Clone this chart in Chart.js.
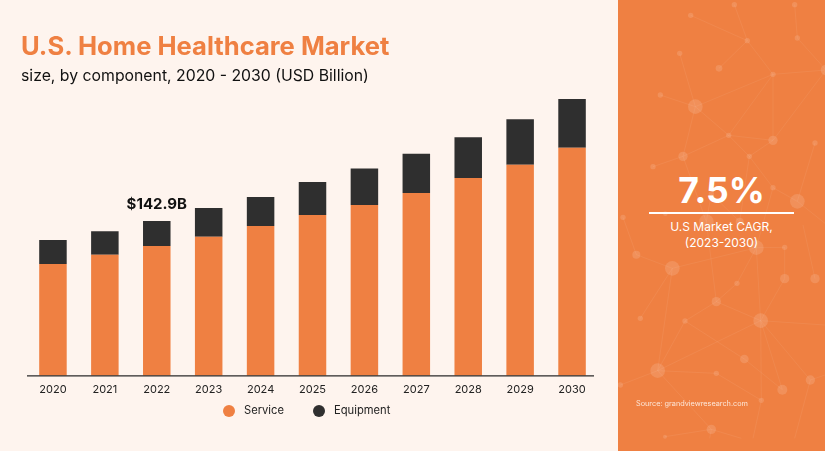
<!DOCTYPE html>
<html>
<head>
<meta charset="utf-8">
<title>U.S. Home Healthcare Market</title>
<script src="https://cdn.jsdelivr.net/npm/chart.js@4"></script>
<style>
    html, body { margin: 0; padding: 0; }
    body { width: 825px; height: 451px; overflow: hidden; background: #fef4ee; font-family: Inter, sans-serif; position: relative; }
    #chartBox { position: absolute; left: 0; top: 0; width: 618px; height: 451px; }
    .title { position: absolute; left: 21px; top: 30px; font-size: 25.6px; line-height: 32px; font-weight: 700; color: #ef8042; white-space: nowrap; }
    .subtitle { position: absolute; left: 21px; top: 66px; font-size: 15.8px; line-height: 20px; color: #111; white-space: nowrap; }
    .legend-item { position: absolute; top: 403px; font-size: 11.2px; line-height: 15px; color: #222; white-space: nowrap; }
    .legend-dot { position: absolute; top: 405px; width: 12px; height: 12px; border-radius: 50%; }
    .panel { position: absolute; left: 618px; top: 0; width: 207px; height: 451px; background: #ef8042; color: #fff; text-align: center; overflow: hidden; }
    .panel svg { position: absolute; left: 0; top: 0; }
    .cagr { position: absolute; left: 0; width: 207px; top: 168px; font-size: 35.5px; line-height: 46px; font-weight: 700; }
    .rule { position: absolute; left: 31px; top: 212px; width: 145px; height: 1.5px; background: #fff; }
    .cagr-label { position: absolute; left: 0; width: 207px; top: 219px; font-size: 12px; line-height: 16px; color: #fff; }
    .source { position: absolute; left: 18px; top: 399px; font-size: 7.3px; line-height: 10px; color: #fde6d8; white-space: nowrap; }
</style>
</head>
<body>
    <div id="chartBox"><canvas id="marketChart"></canvas></div>
    <div class="title">U.S. Home Healthcare Market</div>
    <div class="subtitle">size, by component, 2020 - 2030 (USD Billion)</div>
    <div id="legend"></div>
    <div class="panel">
        <svg id="network" width="207" height="451" viewBox="0 0 621 1353"></svg>
        <div class="cagr">7.5%</div>
        <div class="rule"></div>
        <div class="cagr-label">U.S Market CAGR,<br>(2023-2030)</div>
        <div class="source">Source: grandviewresearch.com</div>
    </div>

<script>
const years = ['2020', '2021', '2022', '2023', '2024', '2025', '2026', '2027', '2028', '2029', '2030'];
const service = [103.1, 111.6, 119.7, 128.2, 138.3, 148.4, 157.6, 168.7, 182.5, 194.7, 210.4];
const equipment = [22.1, 21.7, 23.2, 26.7, 26.7, 30.4, 33.7, 36.2, 37.7, 42.1, 45.1];
const calloutIndex = 2;
const calloutText = '$142.9B';

// background decoration of the side panel: [x, y, r], r 0 = line end only
const nodes = {
    a: [349, 14, 8], b: [530, 14, 8], c: [218, 46, 8], d: [388, 122, 8], e: [538, 114, 8],
    f: [185, 160, 8], g: [303, 205, 10], h: [465, 223, 8], i: [624, 210, 16], j: [127, 285, 8],
    k: [232, 320, 22], l: [332, 406, 8], m: [465, 421, 14], n: [591, 429, 8], o: [394, 469, 8],
    p: [195, 469, 14], q: [105, 500, 8], r: [465, 563, 8], s: [538, 604, 22], t: [280, 582, 8],
    u: [142, 641, 7], v: [15, 652, 8], w: [265, 665, 22], x: [365, 665, 12], y: [55, 764, 12],
    z: [163, 805, 22], aa: [415, 743, 22], ab: [500, 742, 8], ac: [500, 836, 14], ad: [591, 836, 14],
    ae: [357, 850, 8], af: [295, 905, 14], ag: [67, 955, 8], ah: [201, 963, 8], ai: [428, 962, 22],
    aj: [379, 1077, 13], ak: [119, 1112, 22], al: [295, 1120, 8], am: [7, 1155, 8], an: [493, 1169, 15],
    ao: [577, 1140, 14], ap: [430, 1201, 8], aq: [280, 1288, 14], ar: [141, 1310, 6],
    e1: [621, 975, 0], e2: [621, 1125, 0], e3: [530, 1315, 0], e4: [405, 1315, 0], e5: [370, 1315, 0],
    e6: [275, 1315, 0], e7: [621, 670, 0], e8: [555, 675, 0]
};
const links = [
    'c-d', 'a-d', 'd-g', 'd-h', 'b-e', 'e-i', 'f-k', 'j-k', 'k-h', 'k-l', 'k-p', 'l-h', 'l-m', 'l-o', 'l-p',
    'h-m', 'h-i', 'm-i', 'm-o', 'n-s', 'o-r', 'r-s', 'p-q', 'p-w', 'o-x', 't-w', 't-x', 's-e7', 'e8-ad',
    'y-z', 'z-aa', 'v-y', 'z-ag', 'z-ak', 'aa-ab', 'ab-ac', 'ac-ai', 'aa-ae', 'ae-af', 'af-ah', 'af-ai',
    'aa-ai', 'ah-ak', 'ah-aj', 'ai-ak', 'ai-an', 'ai-ao', 'ai-ap', 'aj-an', 'ak-al', 'al-ap',
    'ak-am', 'ak-aq', 'aq-ar', 'w-af', 'ai-e1', 'ao-e2', 'ao-e3', 'ap-e4', 'aq-e5', 'aq-e6', 'r-aa'
];

const network = document.getElementById('network');
const addShape = (tag, attrs) => {
    const el = document.createElementNS('http://www.w3.org/2000/svg', tag);
    Object.entries(attrs).forEach(([k, v]) => el.setAttribute(k, v));
    network.appendChild(el);
};
links.forEach(link => {
    const [from, to] = link.split('-');
    addShape('line', { x1: nodes[from][0], y1: nodes[from][1], x2: nodes[to][0], y2: nodes[to][1], stroke: '#fff', 'stroke-opacity': 0.08, 'stroke-width': 2.5 });
});
Object.values(nodes).forEach(([cx, cy, r]) => {
    addShape('circle', { cx, cy, r, fill: '#fff', 'fill-opacity': 0.13 });
});

// value label above the highlighted bar, and the baseline which stops short of the last category
const overlayPlugin = {
    id: 'overlay',
    afterDatasetsDraw(chart) {
        const bar = chart.getDatasetMeta(1).data[calloutIndex];
        const { ctx, chartArea, scales } = chart;
        const baseY = scales.y.getPixelForValue(0);
        ctx.save();
        ctx.strokeStyle = '#2a2a2a';
        ctx.lineWidth = 1.2;
        ctx.beginPath();
        ctx.moveTo(chartArea.left, baseY);
        ctx.lineTo(chartArea.right - 4, baseY);
        ctx.stroke();
        ctx.font = '700 15px Inter';
        ctx.fillStyle = '#111';
        ctx.textAlign = 'center';
        ctx.textBaseline = 'middle';
        ctx.fillText(calloutText, bar.x, bar.y - 16.5);
        ctx.restore();
    }
};

const datasets = [
    { label: 'Service', data: service, backgroundColor: '#ef8042', borderWidth: 0 },
    { label: 'Equipment', data: equipment, backgroundColor: '#2f2f2f', borderWidth: 0 }
];

new Chart(document.getElementById('marketChart').getContext('2d'), {
    type: 'bar',
    data: { labels: years, datasets },
    options: {
        responsive: true,
        maintainAspectRatio: false,
        animation: false,
        layout: { padding: { left: 27, right: 20, top: 94, bottom: 48 } },
        datasets: { bar: { barPercentage: 0.53, categoryPercentage: 1 } },
        scales: {
            x: {
                stacked: true,
                grid: { display: false, drawTicks: false },
                border: { display: false },
                ticks: { color: '#222', font: { family: 'Inter', size: 11 }, padding: 7, maxRotation: 0 }
            },
            y: { stacked: true, display: false, min: 0, max: 260 }
        },
        plugins: {
            tooltip: { enabled: false },
            legend: { display: false }
        }
    },
    plugins: [overlayPlugin]
});

// html legend, same spacing as the source graphic
const legendBox = document.getElementById('legend');
const legendSpots = [{ dot: 223, text: 244 }, { dot: 313, text: 334 }];
datasets.forEach((ds, idx) => {
    legendBox.innerHTML += `
        <div class="legend-dot" style="left: ${legendSpots[idx].dot}px; background: ${ds.backgroundColor};"></div>
        <div class="legend-item" style="left: ${legendSpots[idx].text}px;">${ds.label}</div>
    `;
});
</script>
</body>
</html>
